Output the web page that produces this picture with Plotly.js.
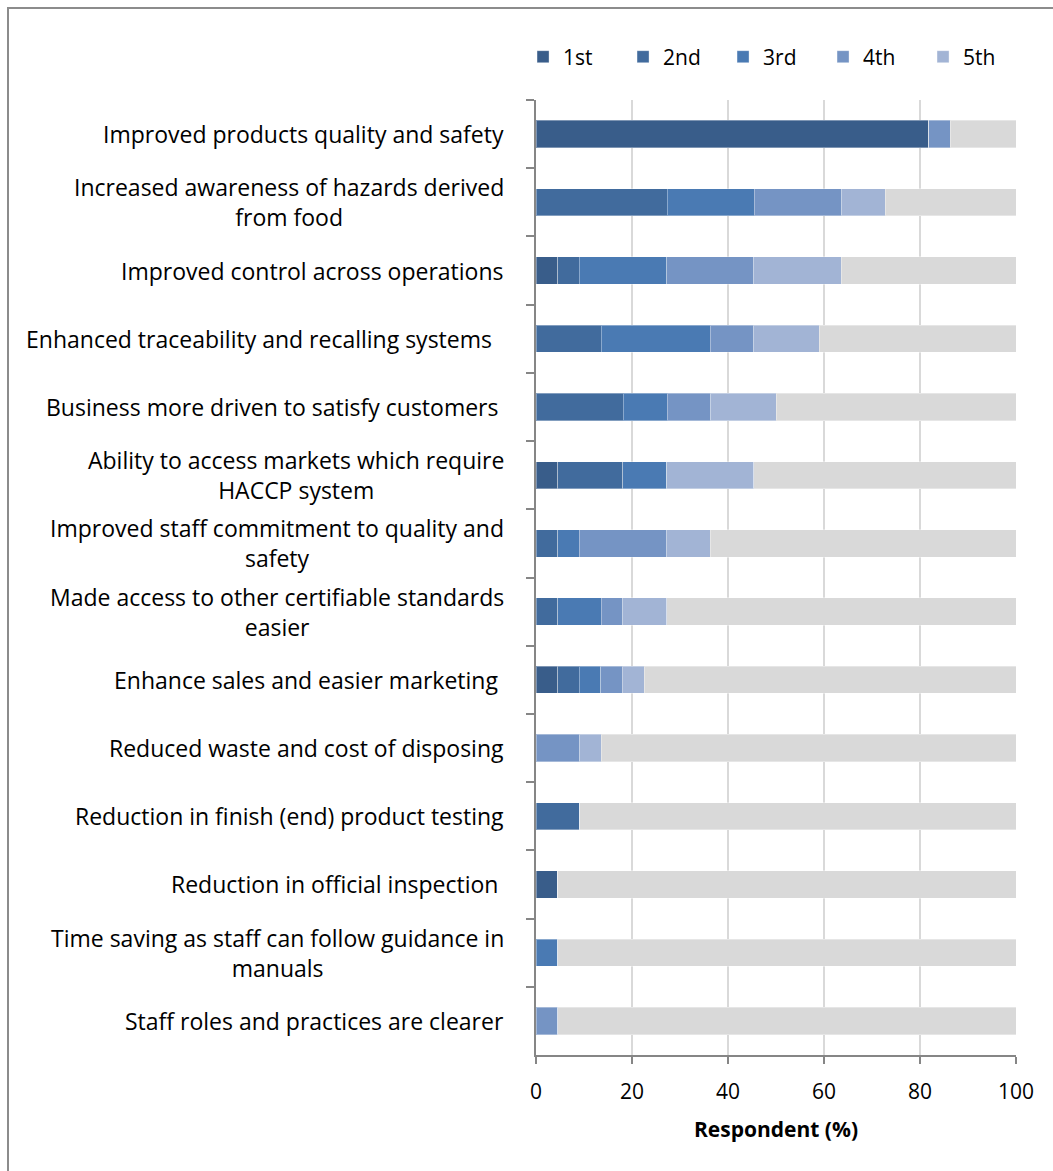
<!DOCTYPE html>
<html>
<head>
<meta charset="utf-8">
<script src="https://cdn.plot.ly/plotly-3.0.1.min.js"></script>
<style>
html,body{margin:0;padding:0;background:#fff;}
#frame{position:absolute;left:7px;top:7px;width:1046px;height:1164px;border-left:2px solid #8c8c8c;border-top:2px solid #8c8c8c;box-sizing:border-box;}
#chart{position:absolute;left:0;top:0;width:1053px;height:1171px;}
</style>
</head>
<body>
<div id="frame"></div>
<div id="chart"></div>
<script>
const categories = [
  "Improved products quality and safety",
  "Increased awareness of hazards derived<br>from food",
  "Improved control across operations",
  "Enhanced traceability and recalling systems\u00a0\u00a0",
  "Business more driven to satisfy customers\u00a0",
  "Ability to access markets which require<br>HACCP system",
  "Improved staff commitment to quality and<br>safety",
  "Made access to other certifiable standards<br>easier",
  "Enhance sales and easier marketing\u00a0",
  "Reduced waste and cost of disposing",
  "Reduction in finish (end) product testing",
  "Reduction in official inspection\u00a0",
  "Time saving as staff can follow guidance in<br>manuals",
  "Staff roles and practices are clearer"
];
const seriesNames = ["1st", "2nd", "3rd", "4th", "5th"];
const first  = [81.8, 0,    4.5,  0,    0,    4.5,  0,   0,   4.5, 0,   0,   4.5, 0,   0];
const second = [0,    27.3, 4.5,  13.6, 18.2, 13.6, 4.5, 4.5, 4.5, 0,   9.1, 0,   0,   0];
const third  = [0,    18.2, 18.2, 22.7, 9.1,  9.1,  4.5, 9.1, 4.5, 0,   0,   0,   4.5, 0];
const fourth = [4.5,  18.2, 18.2, 9.1,  9.1,  0,    18.2,4.5, 4.5, 9.1, 0,   0,   0,   4.5];
const fifth  = [0,    9.1,  18.2, 13.6, 13.6, 18.2, 9.1, 9.1, 4.5, 4.5, 0,   0,   0,   0];
const xTicks = [0, 20, 40, 60, 80, 100];

const colors = ["#395d8a", "#416b9d", "#4a7ab3", "#7594c4", "#a2b4d5"];
const series = [first, second, third, fourth, fifth];
const remainder = categories.map((c, i) => {
  const s = series.reduce((a, arr) => a + arr[i], 0);
  return Math.max(0, 100 - s);
});

const traces = series.map((vals, k) => ({
  type: "bar", orientation: "h", name: seriesNames[k],
  y: categories, x: vals,
  marker: {color: colors[k], line: {color: "rgba(255,255,255,0.35)", width: 1}},
  hoverinfo: "x+name"
}));
traces.push({
  type: "bar", orientation: "h", name: "Other", showlegend: false,
  y: categories, x: remainder,
  marker: {color: "#d9d9d9", line: {color: "rgba(255,255,255,0.35)", width: 1}},
  hoverinfo: "skip"
});

const font = "'Open Sans', Lato, sans-serif";
const annotations = categories.map(c => ({
  xref: "paper", yref: "y", x: -0.063, y: c, text: c,
  xanchor: "right", yanchor: "middle", align: "center", showarrow: false,
  font: {family: font, size: 23, color: "#000"}
}));

const layout = {
  width: 1053, height: 1171,
  margin: {l: 536, r: 37, t: 100, b: 116, pad: 0},
  paper_bgcolor: "rgba(0,0,0,0)", plot_bgcolor: "rgba(0,0,0,0)",
  barmode: "stack", bargap: 0.6,
  font: {family: font, size: 20, color: "#000"},
  showlegend: true,
  legend: {orientation: "h", x: -0.027, xanchor: "left", y: 1.045, yanchor: "middle",
           font: {family: font, size: 21, color: "#000"}, traceorder: "normal",
           entrywidth: 55, entrywidthmode: "pixels", itemwidth: 30},
  xaxis: {
    range: [0, 100], tickvals: xTicks, ticktext: xTicks.map(String),
    showgrid: true, gridcolor: "#d9d9d9", gridwidth: 2,
    showline: true, linecolor: "#868686", linewidth: 2,
    ticks: "outside", ticklen: 7, tickcolor: "#868686", tickwidth: 2,
    ticklabelstandoff: 10,
    zeroline: false, fixedrange: true,
    tickfont: {family: font, size: 21, color: "#000"},
    title: {text: "<b>Respondent (%)</b>", font: {family: font, size: 21, color: "#000"}, standoff: 18}
  },
  yaxis: {
    type: "category", autorange: "reversed",
    showticklabels: false, tickson: "boundaries",
    ticks: "outside", ticklen: 8, tickcolor: "#868686", tickwidth: 2,
    showline: true, linecolor: "#868686", linewidth: 2,
    showgrid: false, zeroline: false, fixedrange: true
  },
  annotations: annotations
};

Plotly.newPlot("chart", traces, layout, {displayModeBar: false, staticPlot: true});
</script>
</body>
</html>
